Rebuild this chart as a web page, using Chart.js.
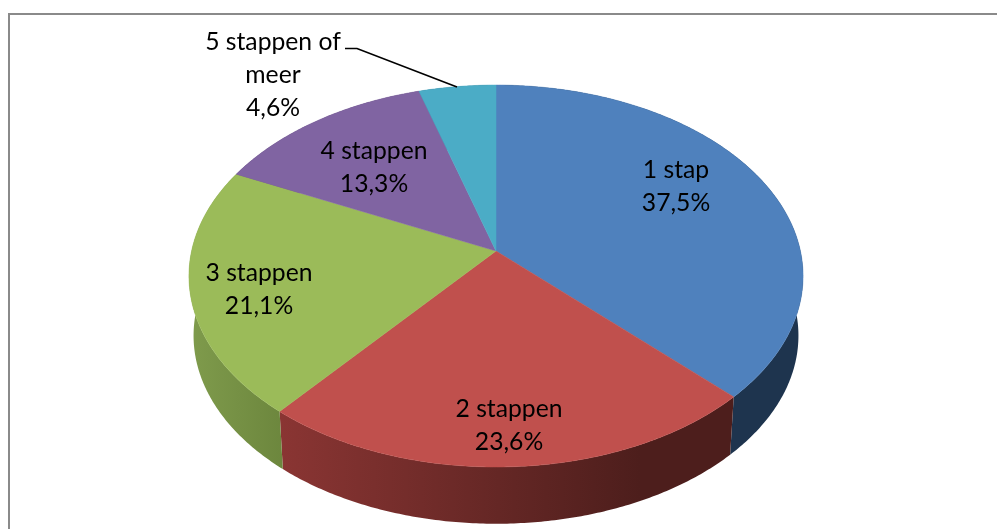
<!DOCTYPE html>
<html>
<head>
<meta charset="utf-8">
<title>Stappen</title>
<script src="https://cdn.jsdelivr.net/npm/chart.js@4/dist/chart.umd.min.js"></script>
<style>
html, body { margin: 0; padding: 0; background: #fff; overflow: hidden; }
#wrap { width: 997px; height: 529px; }
</style>
</head>
<body>
<div id="wrap"><canvas id="grafiekStappen" width="997" height="529"></canvas></div>
<script>
// data
var categories = ['1 stap', '2 stappen', '3 stappen', '4 stappen', ['5 stappen of', 'meer']];
var percentages = [37.5, 23.6, 21.1, 13.3, 4.6];

// stijl
var topColors = ['#4f81bd', '#c0504d', '#9bbb59', '#8064a2', '#4bacc6'];
var sideColors = [
    ['#1e344e', '#1e344e'],
    ['#8a3533', '#4d1e1c'],
    ['#7f9b4c', '#6c863d'],
    ['#4c3b61', '#4c3b61'],
    ['#2c6577', '#2c6577']
];
var sideRanges = [[730, 800], [280, 640], [190, 285], [190, 420], [420, 496]];

// middelpunt van elk label (tekstblok)
var labelCenters = [[676, 187], [509, 426], [259, 290], [374, 168], [273, 75]];
var fontSize = 24.7, lineHeight = 33;

// perspectief van de schijf, gemeten op het plaatje
var pie = { x: 496, y: 251, rx: 304.4, ry: 187.7, k: 0.131, depth: 60, shrink: 0.985 };

function project(angle, lower) {
    var u = Math.cos(angle), v = Math.sin(angle);
    var d = 1 - pie.k * v;
    var s = lower ? pie.shrink : 1;
    return {
        x: pie.x + s * pie.rx * u / d,
        y: pie.y + (lower ? pie.depth : 0) + s * pie.ry * v / d
    };
}

function rim(ctx, a0, a1, lower) {
    var steps = Math.max(2, Math.ceil(Math.abs(a1 - a0) / 0.01));
    for (var i = 0; i <= steps; i++) {
        var p = project(a0 + (a1 - a0) * i / steps, lower);
        ctx.lineTo(p.x, p.y);
    }
}

var pie3d = {
    id: 'pie3d',
    beforeDatasetsDraw: function (chart) {
        var ctx = chart.ctx;
        var arcs = chart.getDatasetMeta(0).data;

        // kader
        ctx.save();
        ctx.strokeStyle = '#8a8a8a';
        ctx.lineWidth = 2;
        ctx.strokeRect(9, 14, 1100, 600);

        // zijkant
        arcs.forEach(function (arc, i) {
            var g = ctx.createLinearGradient(sideRanges[i][0], 0, sideRanges[i][1], 0);
            g.addColorStop(0, sideColors[i][0]);
            g.addColorStop(1, sideColors[i][1]);
            ctx.fillStyle = g;
            ctx.beginPath();
            rim(ctx, arc.startAngle, arc.endAngle, false);
            rim(ctx, arc.endAngle, arc.startAngle, true);
            ctx.closePath();
            ctx.fill();
        });

        // bovenkant
        arcs.forEach(function (arc, i) {
            ctx.fillStyle = topColors[i];
            ctx.strokeStyle = topColors[i];
            ctx.lineWidth = 0.5;
            ctx.beginPath();
            ctx.moveTo(pie.x, pie.y);
            rim(ctx, arc.startAngle, arc.endAngle, false);
            ctx.closePath();
            ctx.fill();
            ctx.stroke();
        });

        // verbindingslijn naar het kleine segment
        ctx.strokeStyle = '#000';
        ctx.lineWidth = 1.7;
        ctx.beginPath();
        ctx.moveTo(345, 48.5);
        ctx.lineTo(357, 48.5);
        ctx.lineTo(457, 87);
        ctx.stroke();

        // labels
        ctx.fillStyle = '#000';
        ctx.font = fontSize + 'px Lato, "Open Sans", sans-serif';
        ctx.textAlign = 'center';
        ctx.textBaseline = 'middle';
        arcs.forEach(function (arc, i) {
            var name = chart.data.labels[i];
            var lines = [].concat(name);
            lines.push(percentages[i].toFixed(1).replace('.', ',') + '%');
            var y = labelCenters[i][1] - (lines.length - 1) * lineHeight / 2;
            lines.forEach(function (line, n) {
                ctx.fillText(line, labelCenters[i][0], y + n * lineHeight);
            });
        });
        ctx.restore();
        return false; // de platte taart niet tekenen
    }
};

var grafiek = new Chart(document.getElementById('grafiekStappen').getContext('2d'), {
    type: 'pie',
    data: {
        labels: categories,
        datasets: [{
            data: percentages,
            backgroundColor: topColors,
            borderWidth: 0
        }]
    },
    options: {
        responsive: false,
        animation: false,
        plugins: {
            legend: { display: false },
            tooltip: { enabled: false }
        }
    },
    plugins: [pie3d]
});
</script>
</body>
</html>
